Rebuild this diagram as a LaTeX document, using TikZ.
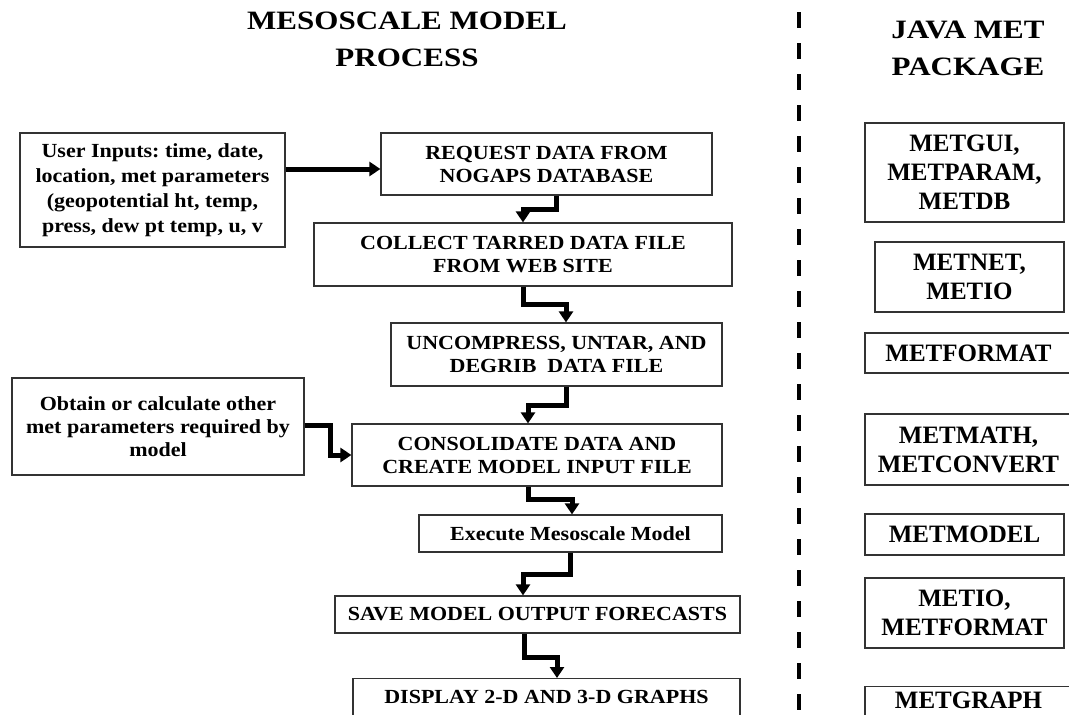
\documentclass[tikz,border=0pt]{standalone}
\usepackage{fontspec}
\setmainfont{Liberation Serif}
\newfontfamily\stepfont[FakeStretch=1.10]{Liberation Serif}
\newfontfamily\headfont[FakeStretch=1.17]{Liberation Serif}
\usetikzlibrary{arrows.meta}
\frenchspacing
\tikzset{
  procbox/.style={draw=black!80, line width=1.2pt, inner sep=0pt, align=center,
    font=\stepfont\bfseries\fontsize{20}{23}\selectfont},
  pkgbox/.style={draw=black!80, line width=1.2pt, inner sep=0pt, align=center,
    font=\bfseries\fontsize{25}{29}\selectfont},
  heading/.style={inner sep=0pt, align=center,
    font=\headfont\bfseries\fontsize{26.5}{37}\selectfont},
  flow/.style={line width=5pt, -{Triangle[length=11pt,width=14pt]}},
  divider/.style={line width=4.5pt, dash pattern=on 16pt off 15pt},
}
\begin{document}
\begin{tikzpicture}[x=1pt,y=-1pt]
\useasboundingbox (0,0) rectangle (1069,715);

% headings
\node[heading] (lefttitle) at (407,39.5) {MESOSCALE MODEL\\PROCESS};
\node[heading] (righttitle) at (968,48.5) {JAVA MET\\PACKAGE};

% separator between the two columns
\coordinate (dtop) at (799,12);
\coordinate (dbot) at (799,720);
\draw[divider] (dtop) -- (dbot);

% process steps
\node[procbox, minimum width=265pt, minimum height=114pt,
      font=\stepfont\bfseries\fontsize{20}{25}\selectfont] (user) at (152.5,190)
  {User Inputs: time, date,\\ location, met parameters\\ (geopotential ht, temp,\\ press, dew pt temp, u, v};
\node[procbox, minimum width=331pt, minimum height=62pt] (request) at (546.5,164)
  {REQUEST DATA FROM\\ NOGAPS DATABASE};
\node[procbox, minimum width=418pt, minimum height=63pt] (collect) at (523,254.5)
  {COLLECT TARRED DATA FILE\\ FROM WEB SITE};
\node[procbox, minimum width=331pt, minimum height=63pt] (uncompress) at (556.5,354.5)
  {UNCOMPRESS, UNTAR, AND\\ DEGRIB~ DATA FILE};
\node[procbox, minimum width=292pt, minimum height=97pt] (obtain) at (158,426.5)
  {Obtain or calculate other\\ met parameters required by\\ model};
\node[procbox, minimum width=370pt, minimum height=62pt] (consolidate) at (537,455)
  {CONSOLIDATE DATA AND\\ CREATE MODEL INPUT FILE};
\node[procbox, minimum width=303pt, minimum height=37pt] (execute) at (570.5,533.5)
  {Execute Mesoscale Model};
\node[procbox, minimum width=405pt, minimum height=37pt] (save) at (537.5,614.5)
  {SAVE MODEL OUTPUT FORECASTS};
\node[procbox, anchor=north, minimum width=387pt, inner ysep=12pt, text depth=22pt] (display) at (546.5,678)
  {DISPLAY 2-D AND 3-D GRAPHS};

% package modules
\node[pkgbox, minimum width=199pt, minimum height=99pt] (metgui) at (964.5,172.5)
  {METGUI,\\METPARAM,\\METDB};
\node[pkgbox, minimum width=189pt, minimum height=70pt] (metnet) at (969.5,277)
  {METNET,\\METIO};
\node[pkgbox, minimum width=207pt, minimum height=40pt] (metformat) at (968.5,353)
  {METFORMAT};
\node[pkgbox, minimum width=207pt, minimum height=71pt] (metmath) at (968.5,449.5)
  {METMATH,\\METCONVERT};
\node[pkgbox, minimum width=199pt, minimum height=41pt] (metmodel) at (964.5,534.5)
  {METMODEL};
\node[pkgbox, minimum width=199pt, minimum height=70pt] (metio) at (964.5,613)
  {METIO,\\METFORMAT};
\node[pkgbox, anchor=north, minimum width=207pt, inner ysep=5pt, text depth=25pt] (metgraph) at (968.5,686)
  {METGRAPH};

% bends of the flow connectors
\coordinate (u1) at (330,169);
\coordinate (a1) at (556,209);  \coordinate (a2) at (523,209);
\coordinate (b1) at (523,304);  \coordinate (b2) at (566,304);
\coordinate (c1) at (566,405);  \coordinate (c2) at (528,405);
\coordinate (o1) at (330,425);  \coordinate (o2) at (330,455);
\coordinate (d1) at (528,499);  \coordinate (d2) at (572,499);
\coordinate (e1) at (570,574);  \coordinate (e2) at (523,574);
\coordinate (f1) at (524,657);  \coordinate (f2) at (557,657);

\draw[flow] (user.east |- u1) -- (request.west |- u1);
\draw[flow] (request.south -| a1) -- (a1) -- (a2) -- (collect.north -| a2);
\draw[flow] (collect.south -| b1) -- (b1) -- (b2) -- (uncompress.north -| b2);
\draw[flow] (uncompress.south -| c1) -- (c1) -- (c2) -- (consolidate.north -| c2);
\draw[flow] (obtain.east |- o1) -- (o1) -- (o2) -- (consolidate.west |- o2);
\draw[flow] (consolidate.south -| d1) -- (d1) -- (d2) -- (execute.north -| d2);
\draw[flow] (execute.south -| e1) -- (e1) -- (e2) -- (save.north -| e2);
\draw[flow] (save.south -| f1) -- (f1) -- (f2) -- (display.north -| f2);
\end{tikzpicture}
\end{document}
